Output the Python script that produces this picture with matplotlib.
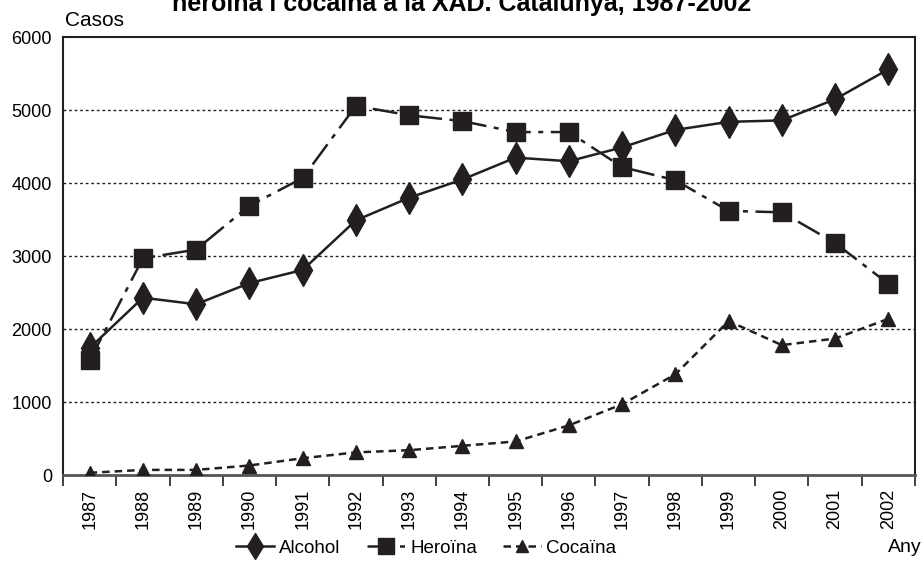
import matplotlib.pyplot as plt
from matplotlib import font_manager
import numpy as np

names = {f.name for f in font_manager.fontManager.ttflist}
fam = 'Liberation Sans Narrow' if 'Liberation Sans Narrow' in names else 'Liberation Sans'
plt.rcParams['font.family'] = [fam, 'DejaVu Sans']

anys = [str(a) for a in range(1987, 2003)]
alcohol = [1740, 2430, 2340, 2630, 2810, 3490, 3800, 4050, 4350, 4300,
           4490, 4730, 4840, 4860, 5150, 5560]
heroina = [1570, 2970, 3090, 3690, 4070, 5060, 4930, 4850, 4700, 4700,
           4220, 4040, 3620, 3600, 3180, 2620]
cocaina = [30, 70, 70, 130, 230, 310, 340, 400, 460, 680,
           970, 1380, 2110, 1780, 1870, 2140]

fig = plt.figure(figsize=(9.23, 5.62), dpi=100)
ax = fig.add_axes([0.0683, 0.1548, 0.923, 0.779])
x = np.arange(len(anys))

ax.plot(x, alcohol, color='#231f20', lw=1.8, marker='d', ms=16, label='Alcohol', zorder=3)
ax.plot(x, heroina, color='#231f20', lw=1.8, ls=(0, (10, 3, 2, 3)), marker='s', ms=13,
        label='Heroïna', zorder=3)
ax.plot(x, cocaina, color='#231f20', lw=1.8, ls=(0, (3, 2)), marker='^', ms=10,
        label='Cocaïna', zorder=3)

ax.set_xlim(-0.5, len(anys) - 0.5)
ax.set_ylim(0, 6000)
ax.set_yticks(range(0, 7000, 1000))
ax.set_yticklabels(['0', '1000', '2000', '3000', '4000', '5000', '6000'], fontsize=13)
ax.tick_params(axis='y', length=0, pad=8)
ax.set_xticks(x)
ax.set_xticklabels(anys, rotation=90, fontsize=13)
ax.set_xticks(np.arange(-0.5, len(anys), 1), minor=True)
ax.tick_params(axis='x', which='major', length=0, pad=10)
ax.tick_params(axis='x', which='minor', length=8, width=1.2, color='#231f20', direction='out')

for v in range(1000, 6000, 1000):
    ax.axhline(v, color='#231f20', lw=1, ls=(0, (2, 2)), zorder=1)

for s in ax.spines.values():
    s.set_linewidth(1.5)
    s.set_color('#231f20')
ax.spines['bottom'].set_color('#555555')
ax.spines['bottom'].set_linewidth(2)

# title is partly cut off at the top, as in the original
fig.text(0.5, 1 - 4 / 562, 'heroïna i cocaïna a la XAD. Catalunya, 1987-2002', ha='center',
         va='center', fontsize=18, fontweight='bold')
fig.text(0.070, 0.963, 'Casos', ha='left', va='center', fontsize=15,
         bbox=dict(facecolor='white', edgecolor='none', pad=1))
fig.text(0.962, 0.025, 'Any', ha='left', va='center', fontsize=14)

leg = fig.legend(loc='center', bbox_to_anchor=(0.462, 0.025), ncol=3, frameon=False,
                 fontsize=13.5, handlelength=2.0, columnspacing=1.4, handletextpad=0.3,
                 markerscale=0.85)

fig.savefig('out.png', dpi=100)
